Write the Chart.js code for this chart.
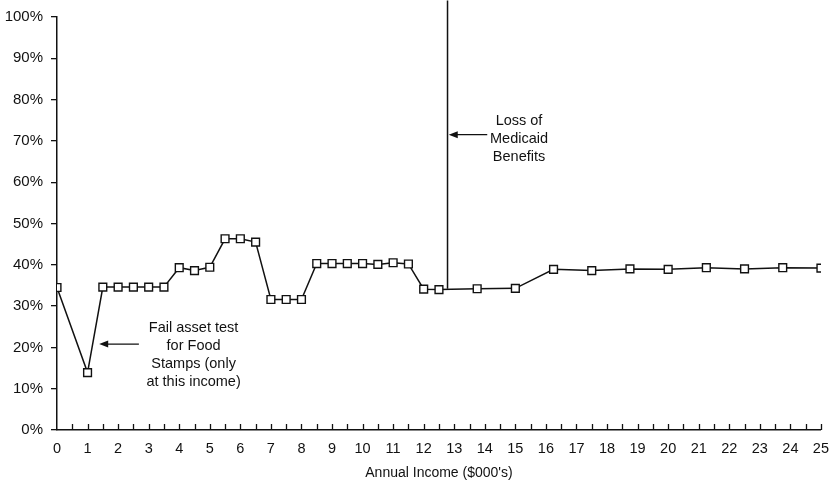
<!DOCTYPE html>
<html>
<head>
<meta charset="utf-8">
<script src="https://cdn.jsdelivr.net/npm/chart.js@4.4.1/dist/chart.umd.min.js"></script>
<style>
  html, body { margin: 0; padding: 0; background: #fff; }
  #wrap { width: 839px; height: 487px; position: relative; }
</style>
</head>
<body>
<div id="wrap"><canvas id="rateChart"></canvas></div>
<script>
// Annual income ($000's) and effective marginal rate (%)
const incomes = [0, 1, 1.5, 2, 2.5, 3, 3.5, 4, 4.5, 5, 5.5, 6, 6.5, 7, 7.5, 8, 8.5, 9, 9.5, 10,
                 10.5, 11, 11.5, 12, 12.5, 13.75, 15, 16.25, 17.5, 18.75, 20, 21.25, 22.5, 23.75, 25];
const rates = [34.5, 13.9, 34.6, 34.6, 34.6, 34.6, 34.6, 39.3, 38.6, 39.4, 46.3, 46.3, 45.5, 31.6, 31.6, 31.6,
               40.3, 40.3, 40.3, 40.3, 40.1, 40.5, 40.2, 34.1, 34.0, 34.2, 34.3, 38.9, 38.6, 39.0, 38.9,
               39.3, 39.0, 39.3, 39.2];

// Medicaid cut-off spike
const medicaidX = [12.78, 12.78];
const medicaidY = [34.2, 104];

const xTickLabels = Array.from({ length: 26 }, (_, i) => String(i));

// Text callouts (anchored in data units)
const callouts = [
    { lines: ['Fail asset test', 'for Food', 'Stamps (only', 'at this income)'],
      textX: 4.47, textY: 24.6, arrowFrom: [2.68, 20.8], arrowTo: [1.38, 20.8] },
    { lines: ['Loss of', 'Medicaid', 'Benefits'],
      textX: 15.12, textY: 74.9, arrowFrom: [14.08, 71.5], arrowTo: [12.82, 71.5] }
];

const FONT = "'Liberation Sans', Arial, sans-serif";
Chart.defaults.font.family = FONT;
Chart.defaults.color = '#111';

const toPoints = (xs, ys) => xs.map((x, i) => ({ x: x, y: ys[i] }));

// small upward ticks every half unit on the x axis + the callouts
const extrasPlugin = {
    id: 'extras',
    afterDraw(chart) {
        const ctx = chart.ctx;
        const xs = chart.scales.x, ys = chart.scales.y;
        const base = ys.getPixelForValue(0);
        ctx.save();
        ctx.strokeStyle = '#111';
        ctx.lineWidth = 1.3;
        for (let v = 0.5; v <= 25; v += 0.5) {
            const px = Math.round(xs.getPixelForValue(v)) + 0.5;
            ctx.beginPath();
            ctx.moveTo(px, base);
            ctx.lineTo(px, base - 6);
            ctx.stroke();
        }

        ctx.fillStyle = '#111';
        ctx.font = '14.5px ' + FONT;
        ctx.textAlign = 'center';
        ctx.textBaseline = 'middle';
        callouts.forEach(c => {
            const tx = xs.getPixelForValue(c.textX);
            const ty = ys.getPixelForValue(c.textY);
            c.lines.forEach((ln, i) => ctx.fillText(ln, tx, ty + i * 18));

            const x1 = xs.getPixelForValue(c.arrowFrom[0]), y1 = ys.getPixelForValue(c.arrowFrom[1]);
            const x2 = xs.getPixelForValue(c.arrowTo[0]), y2 = ys.getPixelForValue(c.arrowTo[1]);
            ctx.lineWidth = 1.2;
            ctx.beginPath();
            ctx.moveTo(x1, y1);
            ctx.lineTo(x2 + 6, y2);
            ctx.stroke();
            ctx.beginPath();
            ctx.moveTo(x2, y2);
            ctx.lineTo(x2 + 9, y2 - 3.5);
            ctx.lineTo(x2 + 9, y2 + 3.5);
            ctx.closePath();
            ctx.fill();
        });
        ctx.restore();
    }
};

const ctx = document.getElementById('rateChart').getContext('2d');
new Chart(ctx, {
    type: 'line',
    data: {
        datasets: [{
            data: toPoints(incomes, rates),
            borderColor: '#111',
            borderWidth: 1.5,
            tension: 0,
            pointStyle: 'rect',
            pointRadius: 5.5,
            pointBorderWidth: 1.4,
            pointBackgroundColor: '#fff',
            pointBorderColor: '#111'
        }, {
            data: toPoints(medicaidX, medicaidY),
            borderColor: '#111',
            borderWidth: 1.5,
            pointRadius: 0,
            clip: false
        }]
    },
    plugins: [extrasPlugin],
    options: {
        responsive: true,
        maintainAspectRatio: false,
        animation: false,
        layout: { padding: { top: 12, right: 15, left: 0, bottom: 0 } },
        scales: {
            x: {
                type: 'linear',
                min: 0,
                max: 25,
                afterFit: s => { s.height = 57; },
                afterBuildTicks: s => { s.ticks = xTickLabels.map(v => ({ value: Number(v) })); },
                ticks: {
                    callback: (v, i) => xTickLabels[i],
                    font: { size: 14.5 },
                    color: '#111',
                    padding: 10,
                    maxRotation: 0,
                    autoSkip: false
                },
                grid: { display: true, drawOnChartArea: false, drawTicks: false, color: '#111' },
                border: { display: true, color: '#111', width: 1.5 },
                title: {
                    display: true,
                    text: "Annual Income ($000's)",
                    font: { size: 14 },
                    color: '#111',
                    padding: { top: 4, bottom: 5 }
                }
            },
            y: {
                min: 0,
                max: 100,
                afterFit: s => { s.width = 57; },
                ticks: {
                    stepSize: 10,
                    callback: v => v + '%',
                    font: { size: 15 },
                    color: '#111',
                    padding: 8
                },
                grid: { drawOnChartArea: false, tickLength: 6, color: '#111', lineWidth: 1.3 },
                border: { display: true, color: '#111', width: 1.5 }
            }
        },
        plugins: {
            legend: { display: false },
            tooltip: { enabled: false }
        }
    }
});
</script>
</body>
</html>
